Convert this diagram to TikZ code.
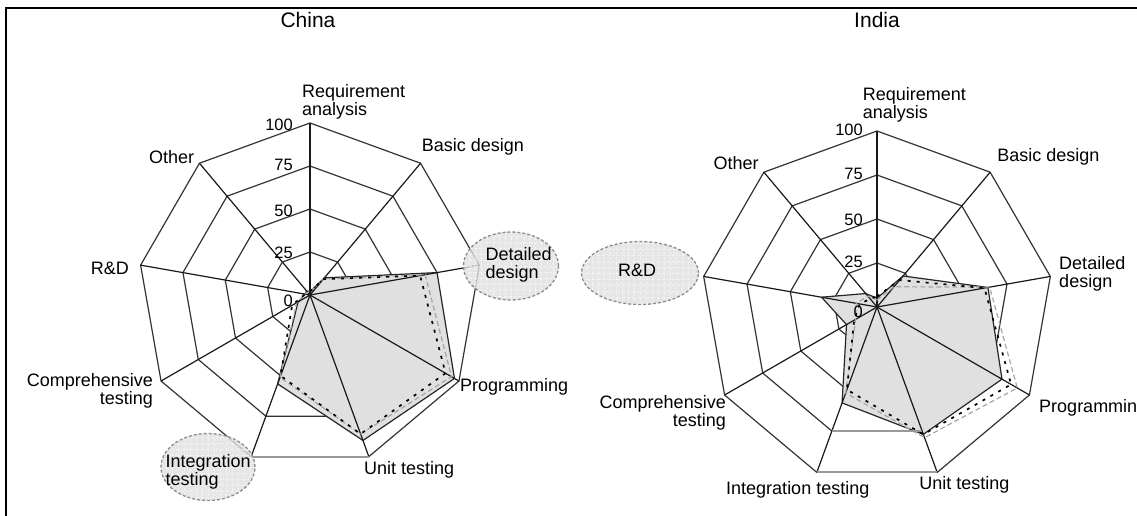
\documentclass[tikz,border=0pt]{standalone}
\usepackage{fontspec}
\setmainfont{Liberation Sans}
\usetikzlibrary{calc,positioning,shapes.geometric}

\tikzset{
  ringline/.style={draw=black!80,line width=1.2pt},
  spoke/.style={draw=black!90,line width=1.2pt},
  areafill/.style={fill=black!12,draw=black!85,line width=1.2pt,line join=round},
  blackdash/.style={draw=black,line width=1.7pt,dash pattern=on 3pt off 6pt},
  greydash/.style={draw=black!35,line width=1.2pt,dash pattern=on 5pt off 3pt},
  greyseg/.style={draw=black!40,line width=2pt},
  axlabel/.style={font=\fontsize{18}{18}\selectfont,inner sep=0pt},
  ringlabel/.style={font=\fontsize{16.5}{16.5}\selectfont,inner sep=0pt,anchor=east},
  titlelabel/.style={font=\fontsize{21}{21}\selectfont,inner sep=0pt},
  hilite/.style={ellipse,draw=black!45,dash pattern=on 3pt off 2pt,line width=1.3pt,
    fill=black!12,fill opacity=0.8,inner sep=0pt,
    path picture={\draw[white,line width=0.4pt,opacity=0.5] (path picture bounding box.south west) grid[step=6pt] (path picture bounding box.north east);}}
}

\begin{document}
\begin{tikzpicture}[x=1pt,y=-1pt]
\useasboundingbox (0,0) rectangle (1137,516);

% Frame
\coordinate (frameA) at (1137,8);
\coordinate (frameB) at (6,8);
\coordinate (frameC) at (6,516);
\draw[line width=1.4pt] (frameA) -- (frameB) -- (frameC);

% Titles
\node[titlelabel] (chinaTitle) at (308,20) {China};
\node[titlelabel] (indiaTitle) at (877,20) {India};

% Centres and web corners
\coordinate (C) at (310,295);
\coordinate (I) at (877,307);
\foreach \ch/\R in {C/172,I/176}
  \foreach \k in {0,...,8}
    \foreach \lev in {1,...,4}
      \coordinate (\ch-\lev-\k) at ($(\ch)+({\lev/4*\R*sin(40*\k)},{-\lev/4*\R*cos(40*\k)})$);

% Rings
\foreach \ch in {C,I}
  \foreach \lev in {1,...,4}
    \draw[ringline] (\ch-\lev-0) \foreach \k in {1,...,8}{-- (\ch-\lev-\k)} -- cycle;

% Data corners
\foreach \sr/\ch/\R/\vals in {chinaArea/C/172/{2,13,75,97,90,55,8,3,3},
    chinaBlack/C/172/{2,12,65,91,86,50,12,3,2},
    chinaGrey/C/172/{2,12,68,95,86,51,9,3,2},
    indiaArea/I/176/{5,23,64,82,77,58,20,32,10},
    indiaBlack/I/176/{6,20,62,88,77,50,15,10,6},
    indiaGrey/I/176/{4,15,65,92,79,52,14,12,8}}
  \foreach \v [count=\k from 0] in \vals
    \coordinate (\sr\k) at ($(\ch)+({\v/100*\R*sin(40*\k)},{-\v/100*\R*cos(40*\k)})$);

% Grey areas
\draw[areafill] (chinaArea0) \foreach \k in {1,...,8}{-- (chinaArea\k)} -- cycle;
\draw[areafill] (indiaArea0) \foreach \k in {1,...,8}{-- (indiaArea\k)} -- cycle;

% Spokes
\foreach \ch in {C,I} \foreach \k in {1,...,8} \draw[spoke] (\ch) -- (\ch-4-\k);
\draw[spoke,line width=1.6pt] (C) -- (C-4-0); \draw[spoke,line width=1.6pt] (I) -- (I-4-0);

% Other series
\draw[greydash] (chinaGrey0) \foreach \k in {1,...,8}{-- (chinaGrey\k)} -- cycle;
\draw[blackdash] (chinaBlack0) \foreach \k in {1,...,8}{-- (chinaBlack\k)} -- cycle;
\draw[greydash] (indiaGrey0) \foreach \k in {1,...,8}{-- (indiaGrey\k)} -- cycle;
\draw[blackdash] (indiaBlack0) \foreach \k in {1,...,8}{-- (indiaBlack\k)} -- cycle;

% Grey outer segments
\draw[greyseg] (C-4-5) -- (C-4-4);
\draw[greyseg] (I-4-5) -- (I-4-4); \draw[greyseg] (I-3-5) -- (I-3-4);

% Highlight ovals
\node[hilite,minimum width=95pt,minimum height=68pt] (ovalDD) at (511,266) {};
\node[hilite,minimum width=94pt,minimum height=67pt] (ovalIT) at (208,467) {};
\node[hilite,minimum width=117pt,minimum height=63pt] (ovalRD) at (640,273) {};

% Ring values
\foreach \lev/\txt/\dy in {0/0/6,1/25/1,2/50/2,3/75/-1,4/100/2}
  \node[ringlabel] (C-val-\lev) at ($(C)+(-17,{-\lev/4*172+\dy})$) {\txt};
\foreach \lev/\txt/\dy in {0/0/5,1/25/-1,2/50/1,3/75/-1,4/100/-1}
  \node[ringlabel] (I-val-\lev) at ($(I)+(-14,{-\lev/4*176+\dy})$) {\txt};

% Axis labels, China
\node[axlabel,anchor=west,align=left] (C-req) at ($(C-4-0)+(-8,-21)$) {Requirement\\analysis};
\node[axlabel,anchor=west] (C-bas) at ($(C-4-1)+(1,-16.5)$) {Basic design};
\node[axlabel,anchor=west,align=left] (C-det) at ($(ovalDD)+(-25.5,-1)$) {Detailed\\design};
\node[axlabel,anchor=west] (C-pro) at ($(C-4-3)+(1,5.7)$) {Programming};
\node[axlabel,anchor=west] (C-uni) at ($(C-4-4)+(-5,13.4)$) {Unit testing};
\node[axlabel,anchor=west,align=left] (C-int) at ($(ovalIT)+(-42.5,4.5)$) {Integration\\testing};
\node[axlabel,anchor=east,align=right] (C-com) at ($(C-4-6)+(-8,10)$) {Comprehensive\\testing};
\node[axlabel,anchor=east] (C-rnd) at ($(C-4-7)+(-11.6,3)$) {R\&D};
\node[axlabel,anchor=east] (C-oth) at ($(C-4-8)+(-5,-6.5)$) {Other};

% Axis labels, India
\node[axlabel,anchor=west,align=left] (I-req) at ($(I-4-0)+(-14.3,-26)$) {Requirement\\analysis};
\node[axlabel,anchor=west] (I-bas) at ($(I-4-1)+(7,-15.5)$) {Basic design};
\node[axlabel,anchor=west,align=left] (I-det) at ($(I-4-2)+(8.7,-2.4)$) {Detailed\\design};
\node[axlabel,anchor=west] (I-pro) at ($(I-4-3)+(9.6,13)$) {Programming};
\node[axlabel,anchor=west] (I-uni) at ($(I-4-4)+(-18,12.6)$) {Unit testing};
\node[axlabel,anchor=west] (I-int) at ($(I-4-5)+(-90.8,17.6)$) {Integration testing};
\node[axlabel,anchor=east,align=right] (I-com) at ($(I-4-6)+(1.4,18)$) {Comprehensive\\testing};
\node[axlabel] (I-rnd) at ($(ovalRD)+(-3,-3)$) {R\&D};
\node[axlabel,anchor=east] (I-oth) at ($(I-4-8)+(-5,-9)$) {Other};

\end{tikzpicture}
\end{document}
